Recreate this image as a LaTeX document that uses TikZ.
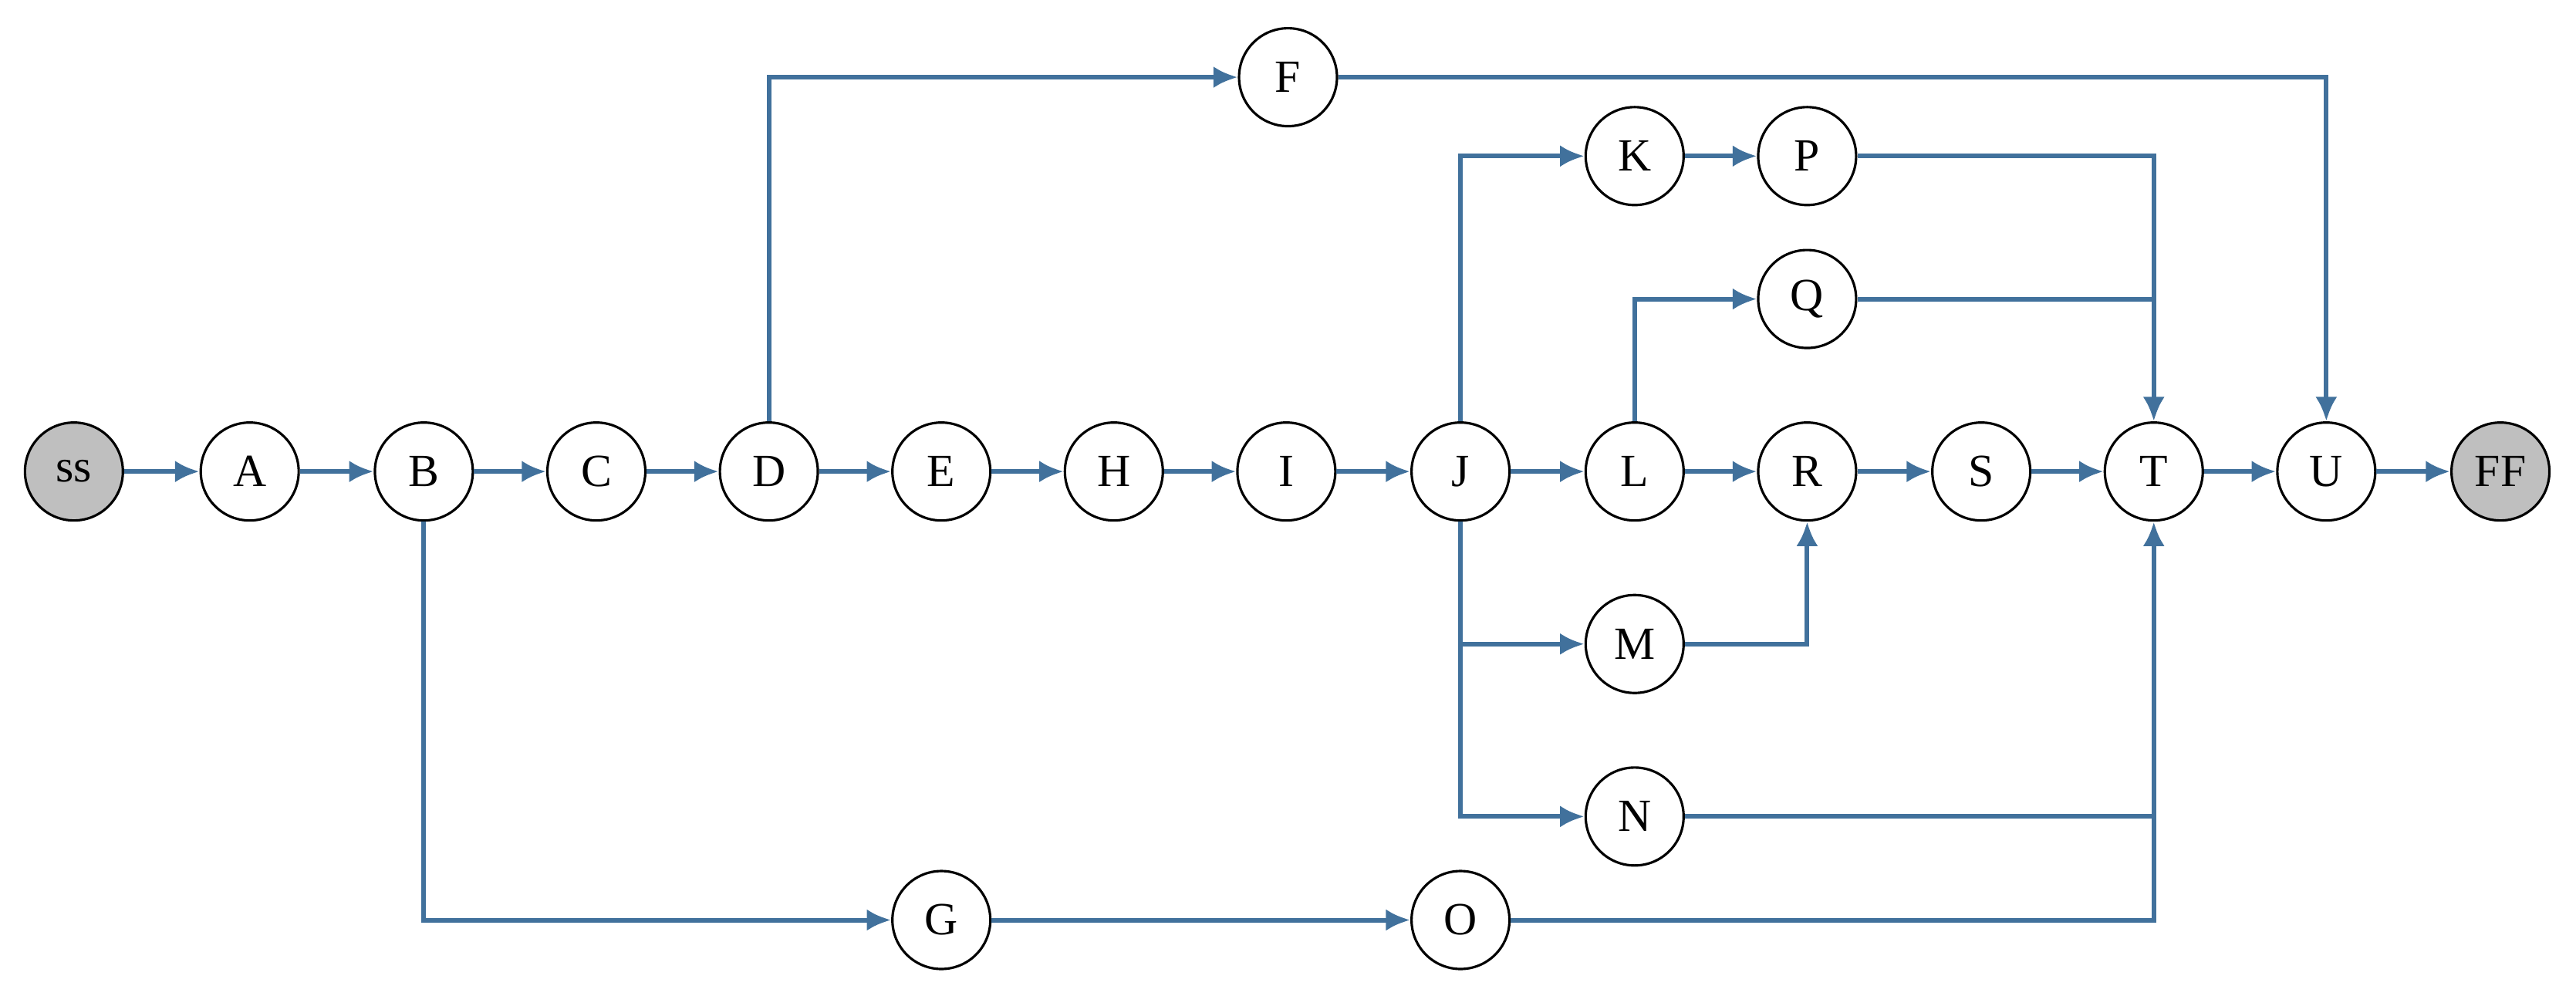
\documentclass[tikz,border=0pt]{standalone}
\usepackage{fontspec}
\setmainfont{Liberation Serif}
\usetikzlibrary{arrows.meta}
\definecolor{ln}{HTML}{41719C}
\begin{document}
\begin{tikzpicture}[x=0.021295cm,y=-0.021295cm,
  nd/.style={circle,draw=black,line width=0.9pt,fill=white,minimum size=1.27cm,inner sep=0pt,font=\fontsize{17}{20}\selectfont},
  gr/.style={nd,fill=black!25},
  ar/.style={draw=ln,line width=1.7pt,-{Latex[length=9pt,width=8pt]}},
  pl/.style={draw=ln,line width=1.7pt}]
\useasboundingbox (0,0) rectangle (1568,605.8);
\node[gr] (ss) at (45,287) {ss};
\node[nd] (A) at (152,287) {A};
\node[nd] (B) at (258,287) {B};
\node[nd] (C) at (363,287) {C};
\node[nd] (D) at (468,287) {D};
\node[nd] (E) at (573,287) {E};
\node[nd] (H) at (678,287) {H};
\node[nd] (I) at (783,287) {I};
\node[nd] (J) at (889,287) {J};
\node[nd] (L) at (995,287) {L};
\node[nd] (R) at (1100,287) {R};
\node[nd] (S) at (1206,287) {S};
\node[nd] (T) at (1311,287) {T};
\node[nd] (U) at (1416,287) {U};
\node[gr] (FF) at (1522,287) {FF};
\node[nd] (F) at (784,47) {F};
\node[nd] (K) at (995,95) {K};
\node[nd] (P) at (1100,95) {P};
\node[nd] (Q) at (1100,182) {Q};
\node[nd] (M) at (995,392) {M};
\node[nd] (N) at (995,497) {N};
\node[nd] (G) at (573,560) {G};
\node[nd] (O) at (889,560) {O};
\foreach \a/\b in {ss/A,A/B,B/C,C/D,D/E,E/H,H/I,I/J,J/L,L/R,R/S,S/T,T/U,U/FF,K/P,G/O}
  \draw[ar] (\a) -- (\b);
\draw[ar] (D.north) |- (F);
\draw[ar] (F) -| (U);
\draw[ar] (J.north) |- (K);
\draw[ar] (P) -| (T);
\draw[ar] (L.north) |- (Q);
\draw[pl] (Q.east) -- (Q.east -| T);
\draw[ar] (J.south) |- (M);
\draw[ar] (J.south) |- (N);
\draw[ar] (M) -| (R);
\draw[pl] (N.east) -- (N.east -| T);
\draw[ar] (B.south) |- (G);
\draw[ar] (O) -| (T);
\end{tikzpicture}
\end{document}
